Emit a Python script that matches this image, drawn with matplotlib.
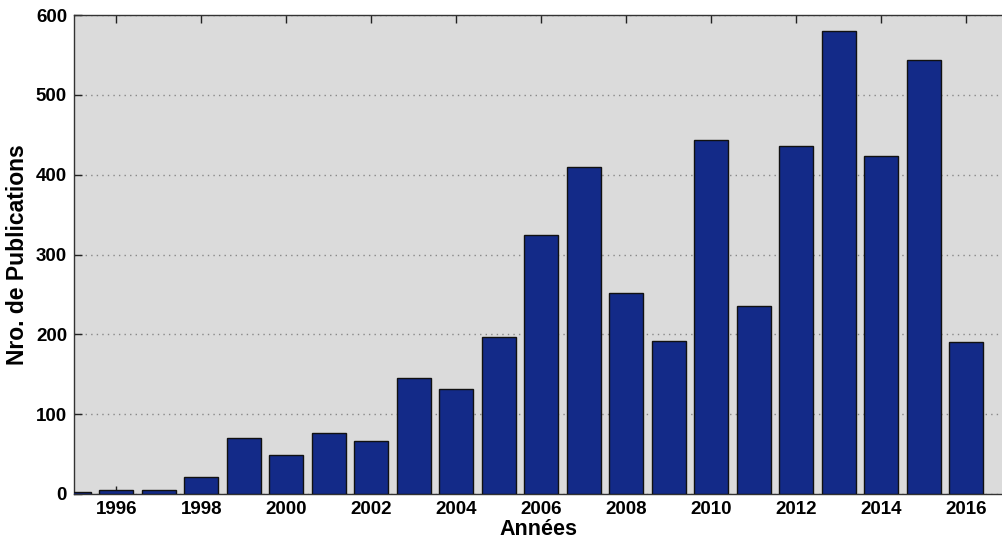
import matplotlib
matplotlib.use('Agg')
import matplotlib.pyplot as plt
import numpy as np

# publications per year
years = [1995, 1996, 1997, 1998, 1999, 2000, 2001, 2002, 2003, 2004, 2005,
         2006, 2007, 2008, 2009, 2010, 2011, 2012, 2013, 2014, 2015, 2016]
counts = [3, 5, 5, 21, 70, 49, 77, 66, 145, 132, 197,
          324, 410, 252, 192, 444, 236, 436, 580, 424, 544, 191]
xticks = list(range(1996, 2017, 2))
yticks = [0, 100, 200, 300, 400, 500, 600]

plt.rcParams['font.family'] = ['Liberation Sans', 'DejaVu Sans']

fig = plt.figure(figsize=(10.02, 5.45), dpi=100)
ax = fig.add_axes([74/1002, 51/545, (1002-74)/1002, (494-15)/545])
ax.set_facecolor('#dbdbdb')

ax.bar(years, counts, width=0.8, color='#132a88', edgecolor='#111111',
       linewidth=1.0, zorder=3)

ax.set_xlim(1995, 2016.84)
ax.set_ylim(0, 600)
ax.set_xticks(xticks)
ax.set_yticks(yticks)
ax.set_xticklabels([str(y) for y in xticks], fontsize=13.5, fontweight='bold')
ax.set_yticklabels([str(v) for v in yticks], fontsize=13.5, fontweight='bold')
ax.tick_params(direction='in', length=6, width=1, top=True, right=False,
               color='#222222', pad=5)

ax.yaxis.grid(True, linestyle=(0, (1, 3)), color='#888888', linewidth=1, zorder=1)
ax.set_axisbelow(True)
for s in ax.spines.values():
    s.set_color('#333333')
    s.set_linewidth(1)
ax.spines['right'].set_visible(False)

ax.set_xlabel('Années', fontsize=15.5, fontweight='bold', labelpad=1)
ax.set_ylabel('Nro. de Publications', fontsize=16.5, fontweight='bold', labelpad=5)

fig.savefig('out.png', dpi=100)
